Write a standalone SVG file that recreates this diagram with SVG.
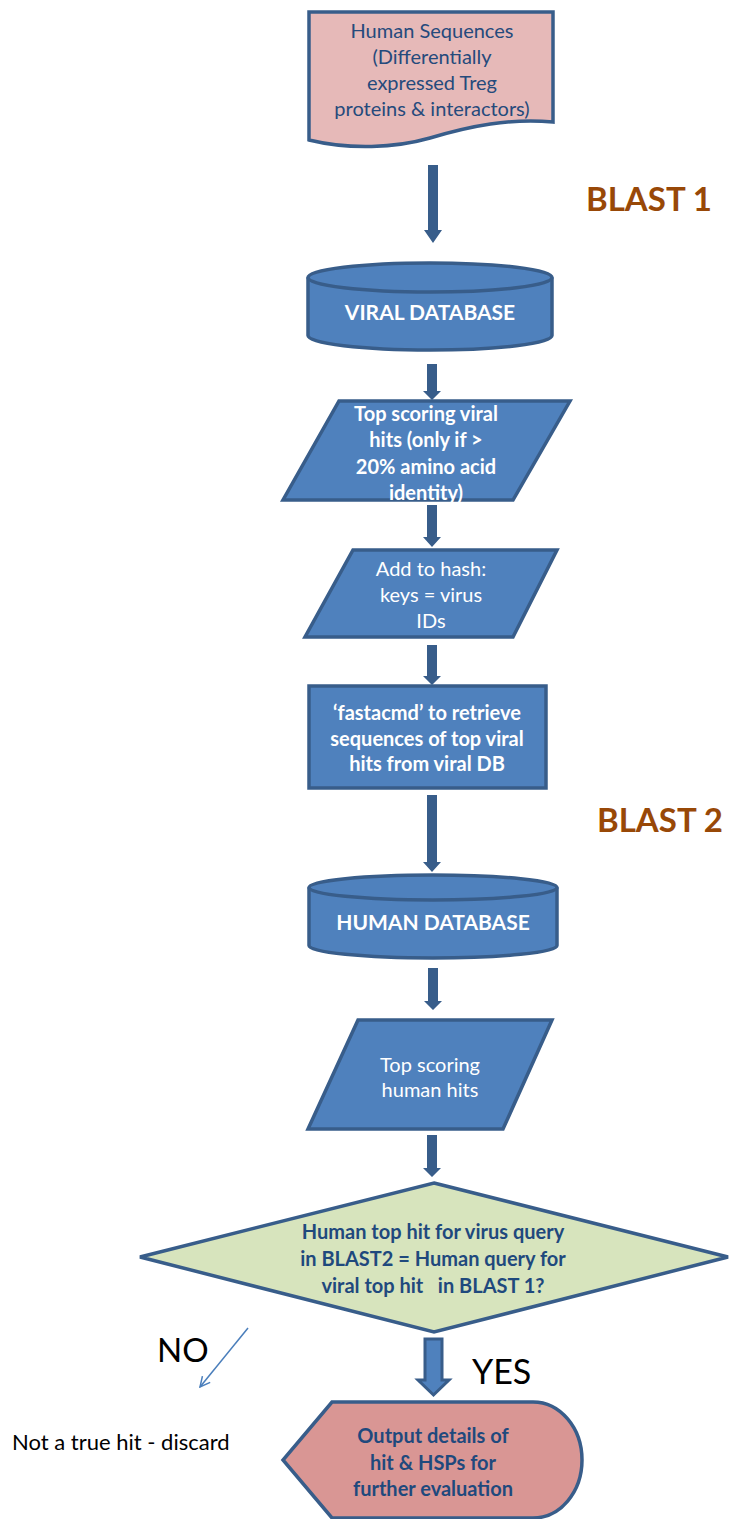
<svg xmlns="http://www.w3.org/2000/svg" width="730" height="1519" viewBox="0 0 730 1519">
<style>
.shape{fill:#4f81bd;stroke:#385d8a;stroke-width:3.5;stroke-linejoin:miter}
.wt{fill:#ffffff;font-family:Lato,"Open Sans",sans-serif;font-size:20px;text-anchor:middle}
.wb{fill:#ffffff;font-family:Lato,"Open Sans",sans-serif;font-size:20px;font-weight:bold;text-anchor:middle}
.db{fill:#1f497d;font-family:Lato,"Open Sans",sans-serif;font-size:20px;font-weight:bold;text-anchor:middle}
.dt{fill:#254a7c;font-family:Lato,"Open Sans",sans-serif;font-size:20px;text-anchor:middle}
.blast{fill:#984807;font-family:Lato,"Open Sans",sans-serif;font-size:33px;font-weight:bold}
.lbl{fill:#000000;font-family:Lato,"Open Sans",sans-serif}
.arr{fill:#385d8a}
</style>
<defs>
<marker id="open" viewBox="0 0 12 12" refX="11" refY="6" markerWidth="12" markerHeight="12" markerUnits="userSpaceOnUse" orient="auto">
<path d="M1,1 L11,6 L1,11" fill="none" stroke="#4a7ebb" stroke-width="1.5"/>
</marker>
</defs>

<g id="connectors">
<polygon class="arr" points="428,165 438,165 438,230 442,230 433,243 424,230 428,230"/>
<polygon class="arr" points="427,364 437,364 437,391 441,391 432,400 423,391 427,391"/>
<polygon class="arr" points="427,505 437,505 437,537 441,537 432,547 423,537 427,537"/>
<polygon class="arr" points="427,645 437,645 437,676 441,676 432,685 423,676 427,676"/>
<polygon class="arr" points="427,795 437,795 437,862 441,862 432,872 423,862 427,862"/>
<polygon class="arr" points="428,968 438,968 438,1001 442,1001 433,1010 424,1001 428,1001"/>
<polygon class="arr" points="427,1135 437,1135 437,1168 441,1168 432,1177 423,1168 427,1168"/>
<polygon points="425,1339 442,1339 442,1380 449,1380 433.5,1395 418,1380 425,1380" fill="#4f81bd" stroke="#385d8a" stroke-width="3"/>
<line x1="248" y1="1328" x2="200" y2="1387" stroke="#4a7ebb" stroke-width="1.5" marker-end="url(#open)"/>
</g>

<g id="human-sequences">
<path d="M309,12 H553 V122 C510,118 470,126 430,138 C395,148 350,150 309,140 Z" fill="#e6b9b8" stroke="#385d8a" stroke-width="3.5"/>
<text class="dt" x="432" y="38">Human Sequences</text>
<text class="dt" x="432" y="64">(Differentially</text>
<text class="dt" x="432" y="90">expressed Treg</text>
<text class="dt" x="432" y="116">proteins &amp; interactors)</text>
</g>

<g id="blast1-label">
<text class="blast" x="586" y="211">BLAST 1</text>
</g>

<g id="viral-database">
<path class="shape" d="M308,277.5 A122,14.5 0 0 1 552,277.5 V335.5 A122,14.5 0 0 1 308,335.5 Z"/>
<path d="M308,277.5 A122,14.5 0 0 0 552,277.5" fill="none" stroke="#385d8a" stroke-width="3.5"/>
<text class="wb" x="430" y="320" style="font-size:21px">VIRAL DATABASE</text>
</g>

<g id="top-viral-hits">
<polygon class="shape" points="339,401 570,401 513,500 283,500"/>
<text class="wb" x="426" y="421">Top scoring viral</text>
<text class="wb" x="426" y="447">hits (only if &gt;</text>
<text class="wb" x="426" y="474">20% amino acid</text>
<text class="wb" x="426" y="500">identity)</text>
</g>

<g id="add-to-hash">
<polygon class="shape" points="353,550 557,550 513,637 305,637"/>
<text class="wt" x="431" y="576">Add to hash:</text>
<text class="wt" x="431" y="602">keys = virus</text>
<text class="wt" x="431" y="628">IDs</text>
</g>

<g id="fastacmd">
<rect class="shape" x="309" y="686" width="237" height="102"/>
<text class="wb" x="427" y="720">‘fastacmd’ to retrieve</text>
<text class="wb" x="427" y="746">sequences of top viral</text>
<text class="wb" x="427" y="771">hits from viral DB</text>
</g>

<g id="blast2-label">
<text class="blast" x="597" y="832">BLAST 2</text>
</g>

<g id="human-database">
<path class="shape" d="M309,887.5 A124,12.5 0 0 1 557,887.5 V945.5 A124,12.5 0 0 1 309,945.5 Z"/>
<path d="M309,887.5 A124,12.5 0 0 0 557,887.5" fill="none" stroke="#385d8a" stroke-width="3.5"/>
<text class="wb" x="433" y="930" style="font-size:21px">HUMAN DATABASE</text>
</g>

<g id="top-human-hits">
<polygon class="shape" points="358,1020 552,1020 503,1129 308,1129"/>
<text class="wt" x="430" y="1072">Top scoring</text>
<text class="wt" x="430" y="1097">human hits</text>
</g>

<g id="decision">
<polygon points="434,1183 728,1257 434,1332 140,1257" fill="#d7e4bd" stroke="#385d8a" stroke-width="3.5"/>
<text class="db" x="433" y="1239">Human top hit for virus query</text>
<text class="db" x="433" y="1266">in BLAST2 = Human query for</text>
<text class="db" x="433" y="1293" xml:space="preserve">viral top hit   in BLAST 1?</text>
</g>

<g id="labels">
<text class="lbl" x="157" y="1362" style="font-size:33px">NO</text>
<text class="lbl" x="472" y="1384" style="font-size:34px">YES</text>
<text class="lbl" x="12" y="1450" style="font-size:22px">Not a true hit - discard</text>
</g>

<g id="output">
<path d="M332,1402 H533 A49,58 0 0 1 533,1518 H332 L283,1460 Z" fill="#d99694" stroke="#385d8a" stroke-width="3.5"/>
<text class="db" x="433" y="1443">Output details of</text>
<text class="db" x="433" y="1470">hit &amp; HSPs for</text>
<text class="db" x="433" y="1496">further evaluation</text>
</g>
</svg>
